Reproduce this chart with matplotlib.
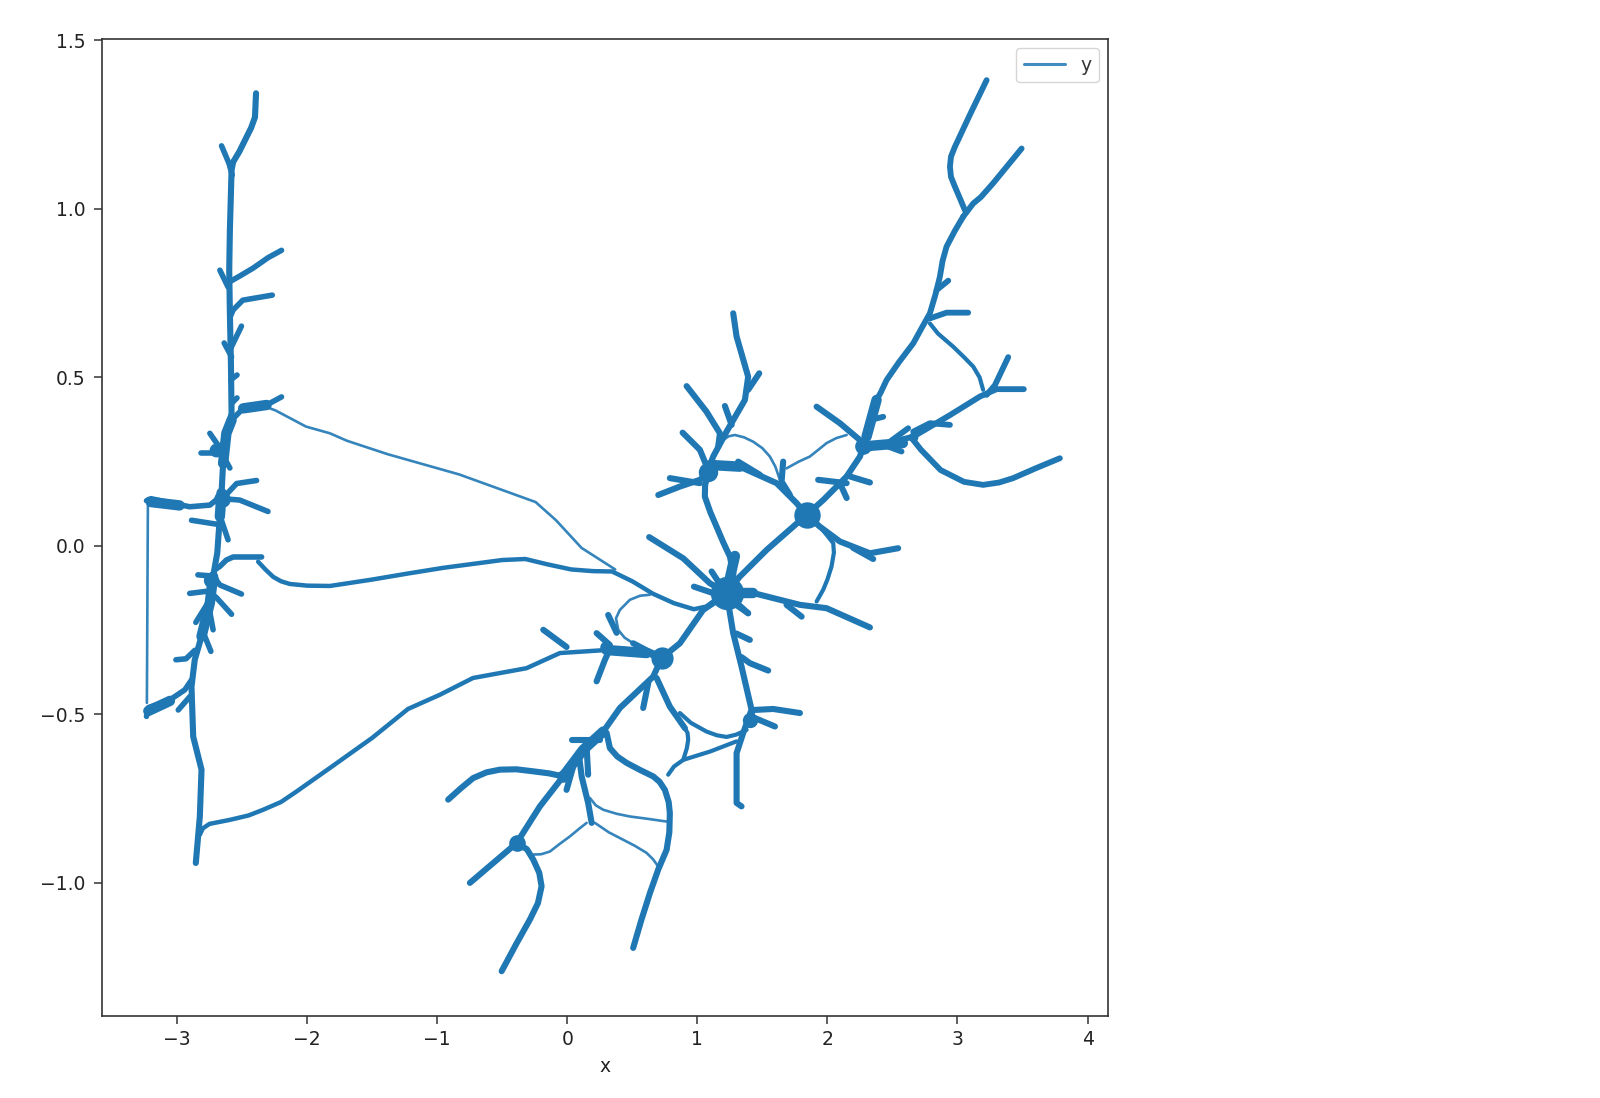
"""
Recreates a branching curve plot of x against y with a single legend entry.
"""

import matplotlib
matplotlib.use("Agg")
import matplotlib.pyplot as plt

# each branch is [x values, y values]
left_trunk = [[-2.392, -2.40, -2.43, -2.465, -2.52, -2.568, -2.58, -2.593, -2.598, -2.593, -2.585, -2.58, -2.62, -2.645,
               -2.657, -2.67, -2.69, -2.722, -2.747, -2.811, -2.863, -2.888, -2.875, -2.811, -2.824, -2.855],
              [1.343, 1.272, 1.24, 1.213, 1.17, 1.139, 1.115, 0.937, 0.818, 0.690, 0.542, 0.393, 0.334, 0.245,
               0.157, 0.087, -0.021, -0.091, -0.169, -0.269, -0.338, -0.418, -0.566, -0.664, -0.803, -0.941]]

left_spurs = [
    [[-2.657, -2.60, -2.575], [1.187, 1.135, 1.10]],
    [[-2.196, -2.30, -2.415, -2.52, -2.593], [0.877, 0.855, 0.824, 0.80, 0.784]],
    [[-2.67, -2.607], [0.818, 0.768]],
    [[-2.267, -2.494, -2.568, -2.59], [0.744, 0.729, 0.70, 0.68]],
    [[-2.504, -2.593], [0.652, 0.581]],
    [[-2.637, -2.58], [0.602, 0.561]],
    [[-2.538, -2.585], [0.507, 0.493]],
    [[-2.538, -2.58], [0.439, 0.423]],
    [[-2.196, -2.311, -2.491, -2.58], [0.442, 0.418, 0.408, 0.373]],
    [[-2.747, -2.657, -2.63], [0.334, 0.284, 0.27]],
    [[-2.818, -2.631], [0.275, 0.275]],
    [[-2.593, -2.65], [0.231, 0.27]],
    [[-2.388, -2.541, -2.65], [0.194, 0.185, 0.14]],
    [[-2.30, -2.518, -2.65], [0.102, 0.136, 0.14]],
    [[-3.234, -3.2, -2.902, -2.747, -2.631], [0.134, 0.14, 0.116, 0.121, 0.157]],
    [[-2.888, -2.657], [0.076, 0.062]],
    [[-2.607, -2.67], [0.018, 0.09]],
    [[-3.234, -3.22, -3.054, -2.939, -2.888], [-0.506, -0.48, -0.457, -0.427, -0.398]],
    [[-2.99, -2.90], [-0.487, -0.447]],
    [[-3.008, -2.93, -2.863], [-0.338, -0.335, -0.31]],
    [[-2.739, -2.785, -2.81], [-0.313, -0.269, -0.26]],
    [[-2.722, -2.75], [-0.249, -0.19]],
    [[-2.855, -2.747], [-0.227, -0.16]],
    [[-2.58, -2.695, -2.74], [-0.203, -0.154, -0.14]],
    [[-2.902, -2.733], [-0.141, -0.133]],
    [[-2.504, -2.67, -2.72], [-0.143, -0.116, -0.09]],
    [[-2.839, -2.71], [-0.086, -0.09]],
    [[-2.349, -2.45, -2.568, -2.62, -2.67, -2.705], [-0.033, -0.033, -0.033, -0.042, -0.061, -0.07]],
]

long_links = [
    [[-2.376, -2.32, -2.26, -2.2, -2.133, -2.0, -1.824, -1.5, -1.224, -0.95, -0.675, -0.5, -0.322, -0.15, 0.031,
      0.2, 0.345, 0.5, 0.659, 0.82, 0.973, 1.07, 1.169],
     [-0.047, -0.07, -0.092, -0.105, -0.113, -0.118, -0.119, -0.10, -0.082, -0.065, -0.051, -0.042, -0.039, -0.055, -0.07,
      -0.075, -0.076, -0.105, -0.142, -0.17, -0.188, -0.18, -0.151]],
    [[-2.824, -2.80, -2.75, -2.593, -2.45, -2.337, -2.2, -2.081, -1.824, -1.5, -1.224, -0.98, -0.724, -0.313, -0.056,
      0.302, 0.61, 0.712],
     [-0.857, -0.838, -0.825, -0.813, -0.80, -0.783, -0.76, -0.729, -0.659, -0.57, -0.484, -0.442, -0.392, -0.363, -0.318,
      -0.309, -0.318, -0.338]],
]

thin_links = [
    [[-3.223, -3.231], [0.142, -0.466]],
    [[-2.285, -2.243, -2.008, -1.824, -1.694, -1.38, -0.831, -0.243, -0.086, 0.11, 0.369],
     [0.408, 0.402, 0.354, 0.334, 0.312, 0.272, 0.212, 0.13, 0.076, -0.006, -0.07]],
    [[1.199, 1.24, 1.289, 1.36, 1.43, 1.5, 1.558, 1.60, 1.635], [0.314, 0.325, 0.329, 0.322, 0.309, 0.29, 0.265, 0.235, 0.196]],
    [[1.686, 1.78, 1.865, 1.93, 1.994, 2.07, 2.148], [0.23, 0.25, 0.265, 0.285, 0.305, 0.32, 0.329]],
    [[0.636, 0.56, 0.482, 0.405, 0.375, 0.392, 0.44, 0.507], [-0.145, -0.148, -0.16, -0.19, -0.215, -0.249, -0.272, -0.289]],
    [[-0.261, -0.2, -0.133, -0.06, 0.021, 0.09, 0.149], [-0.916, -0.915, -0.907, -0.885, -0.862, -0.84, -0.822]],
    [[0.213, 0.32, 0.43, 0.52, 0.61, 0.66, 0.699], [-0.822, -0.85, -0.872, -0.89, -0.911, -0.93, -0.951]],
    [[0.174, 0.22, 0.277, 0.38, 0.482, 0.62, 0.764], [-0.748, -0.77, -0.783, -0.795, -0.803, -0.81, -0.818]],
]

medium_links = [
    [[1.942, 2.0, 2.045, 2.05, 2.032, 2.0, 1.968, 1.917], [0.057, 0.03, 0.008, -0.02, -0.061, -0.10, -0.13, -0.165]],
    [[2.788, 2.85, 2.967, 3.05, 3.121, 3.17, 3.197], [0.66, 0.63, 0.591, 0.56, 0.532, 0.50, 0.463]],
    [[0.776, 0.82, 0.892, 1.1, 1.302], [-0.679, -0.655, -0.635, -0.61, -0.58]],
    [[0.892, 0.92, 0.93, 0.925, 0.905, 0.85, 0.789, 0.74, 0.687],
     [-0.635, -0.60, -0.575, -0.555, -0.541, -0.51, -0.477, -0.435, -0.392]],
    [[0.866, 0.95, 1.071, 1.15, 1.225, 1.30, 1.379], [-0.496, -0.525, -0.551, -0.562, -0.567, -0.56, -0.546]],
]

centre_branches = [
    [[1.276, 1.302, 1.391, 1.366, 1.225, 1.122, 1.084], [0.690, 0.621, 0.502, 0.433, 0.339, 0.265, 0.225]],
    [[1.476, 1.391], [0.512, 0.463]],
    [[0.918, 1.071, 1.174, 1.161], [0.474, 0.398, 0.334, 0.295]],
    [[1.212, 1.264], [0.415, 0.359]],
    [[0.887, 1.02, 1.084], [0.336, 0.285, 0.225]],
    [[0.70, 0.866, 1.02, 1.084], [0.151, 0.176, 0.196, 0.22]],
    [[0.789, 1.02], [0.201, 0.186]],
    [[1.084, 1.06, 1.058, 1.10, 1.148, 1.20, 1.251, 1.275, 1.289], [0.22, 0.18, 0.146, 0.10, 0.057, 0.01, -0.032, -0.08, -0.13]],
    [[1.084, 1.174, 1.327, 1.61, 1.763, 1.84], [0.22, 0.24, 0.235, 0.186, 0.127, 0.092]],
    [[1.314, 1.481], [0.25, 0.211]],
    [[1.66, 1.648, 1.712], [0.25, 0.191, 0.151]],
    [[1.84, 1.968, 2.148, 2.25, 2.275], [0.092, 0.136, 0.206, 0.265, 0.295]],
    [[1.917, 2.096, 2.25], [0.413, 0.364, 0.314]],
    [[1.929, 2.148], [0.196, 0.186]],
    [[2.327, 2.173], [0.188, 0.206]],
    [[2.148, 2.096], [0.142, 0.186]],
    [[1.84, 1.942, 2.096, 2.327, 2.544], [0.092, 0.057, 0.013, -0.022, -0.007]],
    [[2.352, 2.198], [-0.039, -0.006]],
    [[1.84, 1.737, 1.533, 1.327, 1.225], [0.092, 0.057, -0.012, -0.091, -0.14]],
    [[1.225, 1.43, 1.789, 1.994, 2.327], [-0.14, -0.14, -0.175, -0.185, -0.242]],
    [[1.802, 1.686], [-0.21, -0.175]],
    [[0.63, 0.892, 1.097, 1.225], [0.026, -0.037, -0.111, -0.14]],
    [[0.974, 1.174], [-0.121, -0.147]],
    [[1.11, 1.212], [-0.076, -0.136]],
    [[1.391, 1.276], [-0.2, -0.16]],
]

lower_branches = [
    [[0.315, 0.38], [-0.205, -0.258]],
    [[0.726, 0.866, 1.045, 1.199], [-0.333, -0.289, -0.19, -0.15]],
    [[-0.184, -0.005], [-0.249, -0.30]],
    [[0.226, 0.328], [-0.259, -0.294]],
    [[0.226, 0.29, 0.328], [-0.402, -0.338, -0.306]],
    [[0.507, 0.61, 0.687], [-0.289, -0.31, -0.323]],
    [[0.726, 0.661, 0.405, 0.277, 0.123, -0.031, -0.21, -0.389, -0.748],
     [-0.333, -0.388, -0.481, -0.551, -0.605, -0.684, -0.773, -0.882, -1.0]],
    [[0.584, 0.623], [-0.481, -0.407]],
    [[0.034, 0.251], [-0.575, -0.575]],
    [[0.161, 0.149], [-0.679, -0.595]],
    [[-0.005, 0.046], [-0.724, -0.655]],
    [[-0.915, -0.82, -0.723, -0.62, -0.517, -0.39, -0.261, -0.14, -0.031],
     [-0.753, -0.72, -0.689, -0.672, -0.664, -0.663, -0.669, -0.675, -0.684]],
    [[-0.389, -0.31, -0.261, -0.215, -0.197, -0.225, -0.287, -0.39, -0.504],
     [-0.882, -0.90, -0.931, -0.97, -1.01, -1.06, -1.109, -1.18, -1.262]],
    [[0.09, 0.111, 0.161, 0.188], [-0.62, -0.684, -0.763, -0.822]],
    [[0.507, 0.57, 0.636, 0.70, 0.764, 0.785, 0.789, 0.78, 0.751, 0.71, 0.661, 0.56, 0.457, 0.385, 0.328, 0.303],
     [-1.193, -1.11, -1.03, -0.96, -0.902, -0.85, -0.793, -0.76, -0.724, -0.70, -0.684, -0.665, -0.644, -0.625, -0.6, -0.555]],
    [[0.687, 0.789, 0.905], [-0.392, -0.477, -0.541]],
    [[1.225, 1.276, 1.34, 1.417, 1.353, 1.302, 1.302, 1.34], [-0.14, -0.259, -0.358, -0.486, -0.555, -0.615, -0.763, -0.773]],
    [[1.789, 1.583, 1.43, 1.40], [-0.496, -0.484, -0.487, -0.51]],
    [[1.597, 1.443, 1.40], [-0.536, -0.511, -0.51]],
    [[1.545, 1.404, 1.34], [-0.37, -0.348, -0.33]],
    [[1.404, 1.30], [-0.279, -0.26]],
    [[1.391, 1.28], [-0.2, -0.17]],
]

right_branches = [
    [[3.224, 3.10, 2.98, 2.95, 2.942, 2.95, 2.98, 3.02, 3.057], [1.382, 1.283, 1.184, 1.155, 1.125, 1.095, 1.066, 1.03, 0.996]],
    [[3.493, 3.274, 3.18, 3.121, 3.044], [1.179, 1.076, 1.035, 1.016, 0.977]],
    [[3.044, 2.98, 2.916, 2.885, 2.865, 2.83, 2.788, 2.73, 2.66, 2.55, 2.455, 2.41, 2.378, 2.301],
     [0.977, 0.935, 0.888, 0.845, 0.799, 0.745, 0.69, 0.65, 0.601, 0.545, 0.492, 0.455, 0.433, 0.324]],
    [[3.082, 2.916, 2.788], [0.692, 0.692, 0.675]],
    [[2.929, 2.839], [0.787, 0.759]],
    [[2.429, 2.337], [0.383, 0.374]],
    [[3.39, 3.288, 3.224], [0.56, 0.477, 0.448]],
    [[3.51, 3.301, 3.172, 2.942, 2.66, 2.404, 2.275], [0.465, 0.465, 0.443, 0.388, 0.324, 0.3, 0.295]],
    [[2.942, 2.788, 2.66], [0.359, 0.364, 0.339]],
    [[2.621, 2.48], [0.349, 0.309]],
    [[2.57, 2.429], [0.28, 0.30]],
    [[2.66, 2.72, 2.87, 3.05, 3.197, 3.32, 3.428, 3.6, 3.787], [0.314, 0.285, 0.225, 0.19, 0.181, 0.188, 0.201, 0.23, 0.26]],
]

# stretches where the curve doubles up and reads as a heavier stroke
heavy_runs = [
    [[-2.58, -2.62, -2.645], [0.373, 0.334, 0.245]],
    [[-2.722, -2.747, -2.811], [-0.091, -0.169, -0.269]],
    [[-2.657, -2.67], [0.157, 0.087]],
    [[-2.491, -2.311], [0.408, 0.418]],
    [[-3.2, -2.98], [0.13, 0.12]],
    [[-3.22, -3.054], [-0.49, -0.46]],
    [[0.302, 0.61], [-0.309, -0.318]],
    [[-0.031, 0.123, 0.277], [-0.684, -0.605, -0.551]],
    [[2.275, 2.58], [0.295, 0.305]],
    [[2.301, 2.378], [0.324, 0.433]],
    [[1.1, 1.327], [0.24, 0.235]],
    [[1.225, 1.43], [-0.14, -0.14]],
    [[1.225, 1.289], [-0.14, -0.03]],
]

# blobs where many branches meet
hub_x = [1.225, 1.84, 0.726, 1.084, 2.275, -0.031, -0.389, 1.404, -2.65, -2.70, -2.735, -2.78, 0.30, 2.66]
hub_y = [-0.14, 0.092, -0.333, 0.22, 0.295, -0.684, -0.882, -0.516, 0.14, 0.285, -0.10, -0.21, -0.30, 0.324]

x_ticks = [-3, -2, -1, 0, 1, 2, 3, 4]
y_ticks = [-1.0, -0.5, 0.0, 0.5, 1.0, 1.5]

COLOR = "#1f77b4"
hub_sizes = [24, 19, 16, 14, 12, 9, 12, 11, 12, 10, 11, 9, 9, 7]


def draw(axes, branches, width, **kwargs):
    for branch in branches:
        axes.plot(branch[0], branch[1], color=COLOR, lw=width,
                  solid_joinstyle="round", solid_capstyle="round", **kwargs)


fig = plt.figure(figsize=(16, 10.98), dpi=100)
ax = fig.add_axes([102 / 1600, 1 - 1016 / 1098, 1006 / 1600, 977 / 1098])

# only the first branch carries the legend label
ax.plot(left_trunk[0], left_trunk[1], color=COLOR, lw=4.4, label="y",
        solid_joinstyle="round", solid_capstyle="round")

draw(ax, left_spurs, 4.0)
draw(ax, centre_branches, 4.4)
draw(ax, lower_branches, 4.4)
draw(ax, right_branches, 4.2)
draw(ax, long_links, 3.2)
draw(ax, medium_links, 3.0)
draw(ax, thin_links, 1.9, alpha=0.9)
draw(ax, heavy_runs, 7.5)

for hx, hy, size in zip(hub_x, hub_y, hub_sizes):
    ax.plot([hx], [hy], "o", color=COLOR, ms=size, mew=0)

ax.set_xlim(-3.576, 4.157)
ax.set_ylim(-1.395, 1.504)
ax.set_xticks(x_ticks)
ax.set_yticks(y_ticks)
ax.tick_params(labelsize=13.5, length=6, width=1.1, pad=6, labelcolor="#222222", color="#333333")
ax.tick_params(axis="x", pad=4)
ax.set_xlabel("x", fontsize=13.5, color="#222222", labelpad=6)
for spine in ax.spines.values():
    spine.set_linewidth(1.2)
    spine.set_color("#333333")

leg = ax.legend(loc="upper right", fontsize=13.5, handlelength=2.2, labelcolor="#333333")
for line in leg.get_lines():
    line.set_linewidth(2.2)
    line.set_alpha(0.85)

fig.savefig("out.png", dpi=100)
